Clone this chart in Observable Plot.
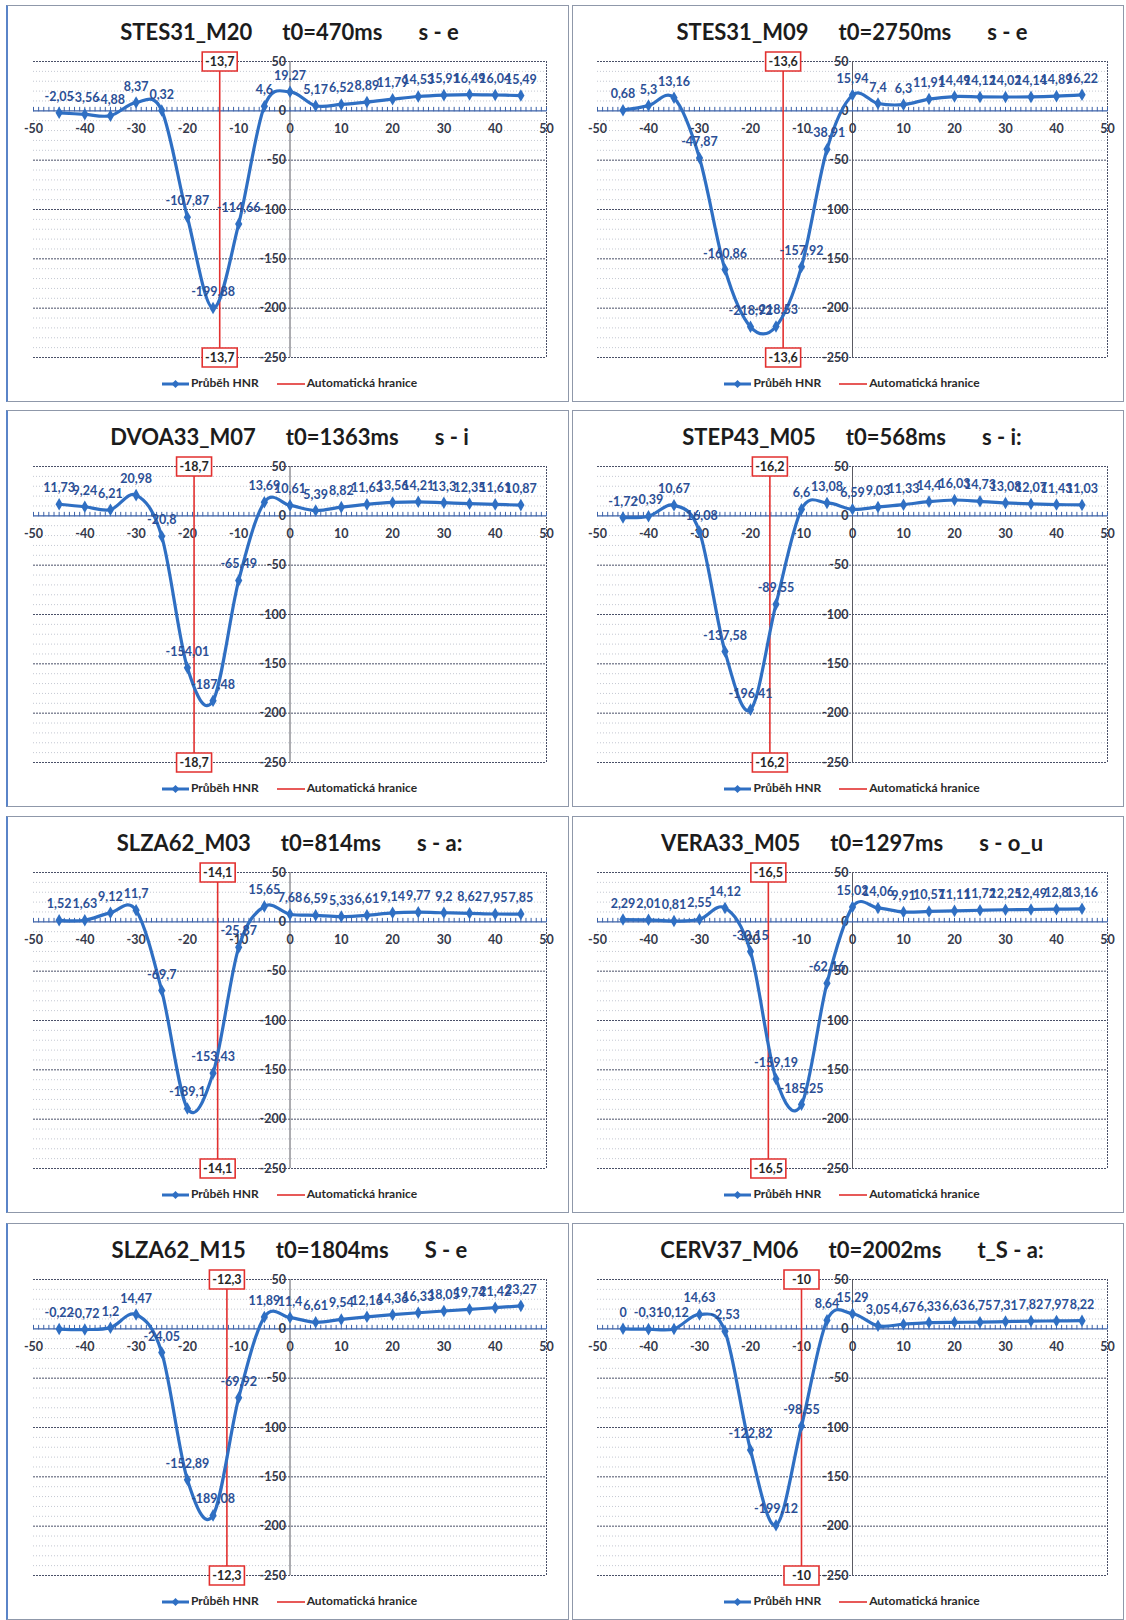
<!DOCTYPE html>
<html>
<head>
<meta charset="utf-8">
<script src="https://cdn.jsdelivr.net/npm/d3@7"></script>
<script src="https://cdn.jsdelivr.net/npm/@observablehq/plot@0.6"></script>
<style>
html,body{margin:0;padding:0;overflow:hidden;background:#fff;}
body{width:1126px;height:1620px;position:relative;font-family:Lato,"Open Sans",sans-serif;}
.panel{position:absolute;box-sizing:border-box;border:1px solid #8f98aa;background:#fff;}
.panel.c0{border-left:2px solid #5a84c8;}
.title{position:absolute;top:13px;height:26px;line-height:26px;text-align:center;font-weight:700;font-size:22px;color:#1c1c1c;white-space:nowrap;}
.title span.g1{margin-left:30px;} .title span.g2{margin-left:36px;}
.plotbox{position:absolute;top:44px;left:0;}
.legend{position:absolute;top:369px;height:16px;line-height:16px;text-align:center;font-size:12px;font-weight:700;color:#2a2a2a;white-space:nowrap;}
.legend svg{vertical-align:middle;margin-right:2px;}
.legend .item2{margin-left:18px;}
</style>
</head>
<body>
<script>
// ---- data ----
const xs = [-45,-40,-35,-30,-25,-20,-15,-10,-5,0,5,10,15,20,25,30,35,40,45];
const speakers = ["STES31_M20","STES31_M09","DVOA33_M07","STEP43_M05","SLZA62_M03","VERA33_M05","SLZA62_M15","CERV37_M06"];
const t0Labels = ["t0=470ms","t0=2750ms","t0=1363ms","t0=568ms","t0=814ms","t0=1297ms","t0=1804ms","t0=2002ms"];
const phonemes = ["s - e","s - e","s - i","s - i:","s - a:","s - o_u","S - e","t_S - a:"];
const boundaries = [-13.7,-13.6,-18.7,-16.2,-14.1,-16.5,-12.3,-10];
const hnr_STES31_M20 = [-2.05,-3.56,-4.88,8.37,0.32,-107.87,-199.88,-114.66,4.6,19.27,5.17,6.52,8.89,11.79,14.53,15.91,16.49,16.04,15.49];
const hnr_STES31_M09 = [0.68,5.3,13.16,-47.87,-160.86,-218.92,-218.53,-157.92,-38.91,15.94,7.4,6.3,11.91,14.49,14.12,14.02,14.14,14.89,16.22];
const hnr_DVOA33_M07 = [11.73,9.24,6.21,20.98,-20.8,-154.01,-187.48,-65.49,13.69,10.61,5.39,8.82,11.63,13.56,14.21,13.3,12.35,11.61,10.87];
const hnr_STEP43_M05 = [-1.72,-0.39,10.67,-16.08,-137.58,-196.41,-89.55,6.6,13.08,6.59,9.03,11.33,14.4,16.03,14.73,13.08,12.07,11.43,11.03];
const hnr_SLZA62_M03 = [1.52,1.63,9.12,11.7,-69.7,-189.1,-153.43,-25.87,15.65,7.68,6.59,5.33,6.61,9.14,9.77,9.2,8.62,7.95,7.85];
const hnr_VERA33_M05 = [2.29,2.01,0.81,2.55,14.12,-30.15,-159.19,-185.25,-62.16,15.02,14.06,9.91,10.57,11.11,11.72,12.25,12.49,12.8,13.16];
const hnr_SLZA62_M15 = [-0.22,-0.72,1.2,14.47,-24.05,-152.89,-189.08,-69.92,11.89,11.4,6.61,9.54,12.16,14.36,16.33,18.05,19.74,21.42,23.27];
const hnr_CERV37_M06 = [0,-0.31,-0.12,14.63,-2.53,-122.82,-199.12,-98.55,8.64,15.29,3.05,4.67,6.33,6.63,6.75,7.31,7.82,7.97,8.22];
const series = [hnr_STES31_M20,hnr_STES31_M09,hnr_DVOA33_M07,hnr_STEP43_M05,hnr_SLZA62_M03,hnr_VERA33_M05,hnr_SLZA62_M15,hnr_CERV37_M06];
const xTicks = [-50,-40,-30,-20,-10,0,10,20,30,40,50];
const yTicks = [50,0,-50,-100,-150,-200,-250];
const majorGrid = [50,-50,-100,-150,-200,-250];
const legendLabels = ["Průběh HNR","Automatická hranice"];

// ---- layout ----
const BLUE = "#2f6fc3", RED = "#e2302f";
const fmt = v => String(v).replace(".", ",");
const cols = [
  {left:6, width:563, ml:25, mr:22},
  {left:572, width:552, ml:24, mr:15}
];
const rowTops = [5,410,816,1223];
const boxSymbol = {draw(ctx){ ctx.rect(-17.5,-9.5,35,19); }};

function makePlot(values, boundary, col) {
  const data = xs.map((x,i)=>({x, y: values[i]}));
  const innerW = col.width - 3;
  const minor = d3.range(-250, 51, 10).filter(v => v % 50 !== 0);
  const xMinor = d3.range(-50, 51, 1);
  const bounds = [{b: boundary, y: 50}, {b: boundary, y: -250}];
  return Plot.plot({
    width: innerW, height: 321,
    marginTop: 11, marginBottom: 14, marginLeft: col.ml, marginRight: col.mr,
    x: {domain: [-50, 50], axis: null},
    y: {domain: [-250, 50], axis: null},
    style: {fontFamily: "Lato, 'Open Sans', sans-serif", background: "transparent", overflow: "visible"},
    marks: [
      Plot.ruleY(minor, {stroke: "#c4c8d2", strokeDasharray: "1,2"}),
      Plot.ruleY(majorGrid, {stroke: "#4a5068", strokeDasharray: "2,1"}),
      Plot.ruleX([50], {stroke: "#4a5068", strokeDasharray: "2,1"}),
      Plot.ruleX([0], {stroke: "#5a5a62"}),
      Plot.ruleY([0], {stroke: "#3c62a8", strokeWidth: 1.3}),
      Plot.ruleX(xMinor, {y1: -1, y2: 3.5, stroke: "#3c62a8"}),
      Plot.text(xTicks, {x: d => d, y: 0, dy: 18, text: d => String(d), fontSize: 12.5, fontWeight: 700, fill: "#35394a"}),
      Plot.text(yTicks, {x: 0, y: d => d, dx: -4, textAnchor: "end", text: d => String(d), fontSize: 12.5, fontWeight: 700, fill: "#35394a"}),
      Plot.ruleX([boundary], {y1: -250, y2: 50, stroke: RED, strokeWidth: 1.6}),
      Plot.line(data, {x: "x", y: "y", curve: "cardinal", stroke: BLUE, strokeWidth: 3.2}),
      Plot.dot(data, {x: "x", y: "y", symbol: "diamond", r: 3.8, fill: BLUE}),
      Plot.text(data, {x: "x", y: "y", dy: -16, text: d => fmt(d.y), fontSize: 12.5, fontWeight: 700, fill: "#2b4f96"}),
      Plot.dot(bounds, {x: "b", y: "y", symbol: boxSymbol, r: 1, fill: "white", stroke: RED, strokeWidth: 1.6}),
      Plot.text(bounds, {x: "b", y: "y", text: d => fmt(d.b), fontSize: 12.5, fontWeight: 700, fill: "#262626"})
    ]
  });
}

for (let i = 0; i < 8; i++) {
  const col = cols[i % 2];
  const top = rowTops[Math.floor(i / 2)];
  const panel = document.createElement("div");
  panel.className = "panel c" + (i % 2);
  panel.style.left = col.left + "px";
  panel.style.top = top + "px";
  panel.style.width = col.width + "px";
  panel.style.height = "397px";

  const plotW = col.width - 3 - col.ml - col.mr;
  const title = document.createElement("div");
  title.className = "title";
  title.style.left = col.ml + "px";
  title.style.width = plotW + "px";
  title.innerHTML = `<span>${speakers[i]}</span><span class="g1">${t0Labels[i]}</span><span class="g2">${phonemes[i]}</span>`;
  panel.appendChild(title);

  const box = document.createElement("div");
  box.className = "plotbox";
  box.appendChild(makePlot(series[i], boundaries[i], col));
  panel.appendChild(box);

  const legend = document.createElement("div");
  legend.className = "legend";
  legend.style.left = col.ml + "px";
  legend.style.width = plotW + "px";
  legend.innerHTML =
    `<span><svg width="27" height="10"><line x1="0" y1="5" x2="27" y2="5" stroke="${BLUE}" stroke-width="3"/><path d="M13.5,1 L17.5,5 L13.5,9 L9.5,5 Z" fill="${BLUE}"/></svg>${legendLabels[0]}</span>` +
    `<span class="item2"><svg width="28" height="10"><line x1="0" y1="5" x2="28" y2="5" stroke="${RED}" stroke-width="1.6"/></svg>${legendLabels[1]}</span>`;
  panel.appendChild(legend);

  document.body.appendChild(panel);
}
</script>
</body>
</html>
